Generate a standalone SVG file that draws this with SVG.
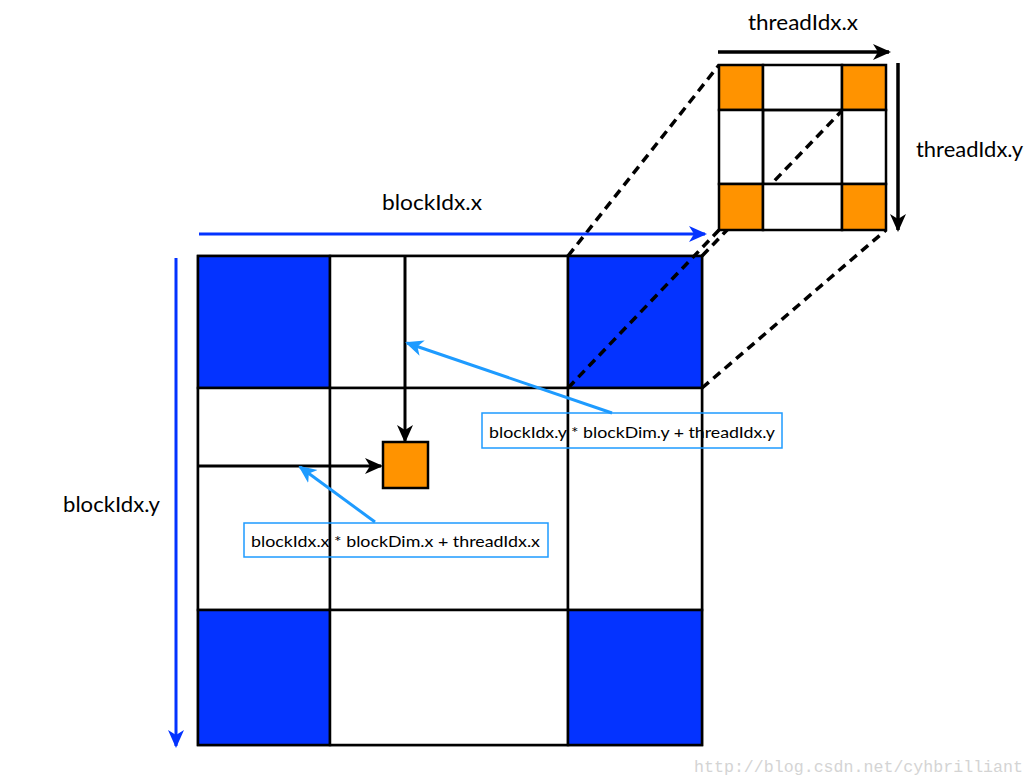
<svg xmlns="http://www.w3.org/2000/svg" width="1035" height="784" viewBox="0 0 1035 784">
<defs>
<style>
.lbl{font-family:Lato,"Open Sans","Liberation Sans",sans-serif;fill:#000}
.big{font-size:21px}
.sm{font-size:15px}
.cell{stroke:#000;stroke-width:2.5}
.blue{fill:#0433FF}
.org{fill:#FF9300}
.wht{fill:#fff}
.dash{stroke:#000;stroke-width:3.5;stroke-dasharray:9,6;fill:none}
.box{fill:none;stroke:#1E9BFF;stroke-width:1.5}
</style>
<marker id="ab" markerUnits="userSpaceOnUse" markerWidth="18" markerHeight="18" viewBox="0 0 18 18" refX="16" refY="9" orient="auto">
<path d="M0,1 L18,9 L0,17 L5,9 z" fill="#000"/>
</marker>
<marker id="abl" markerUnits="userSpaceOnUse" markerWidth="18" markerHeight="18" viewBox="0 0 18 18" refX="16" refY="9" orient="auto">
<path d="M0,1 L18,9 L0,17 L5,9 z" fill="#0433FF"/>
</marker>
<marker id="alb" markerUnits="userSpaceOnUse" markerWidth="18" markerHeight="18" viewBox="0 0 18 18" refX="16" refY="9" orient="auto">
<path d="M0,1 L18,9 L0,17 L5,9 z" fill="#1E9BFF"/>
</marker>
</defs>
<rect width="1035" height="784" fill="#fff"/>

<g id="grid">
<rect class="cell wht" x="198" y="256" width="504" height="489"/>
<rect class="cell blue" x="198" y="256" width="132" height="132"/>
<rect class="cell wht" x="330" y="256" width="238" height="132"/>
<rect class="cell blue" x="568" y="256" width="134" height="132"/>
<rect class="cell wht" x="198" y="388" width="132" height="222"/>
<rect class="cell wht" x="330" y="388" width="238" height="222"/>
<rect class="cell wht" x="568" y="388" width="134" height="222"/>
<rect class="cell blue" x="198" y="610" width="132" height="135"/>
<rect class="cell wht" x="330" y="610" width="238" height="135"/>
<rect class="cell blue" x="568" y="610" width="134" height="135"/>
</g>

<g id="thread">
<rect class="cell org" x="383" y="442" width="45" height="46"/>
</g>

<g id="connectors">
<line class="dash" x1="568" y1="256" x2="719" y2="65"/>
<line class="dash" x1="568" y1="388" x2="719" y2="230"/>
<line class="dash" x1="702" y1="388" x2="886" y2="230"/>
<line class="dash" x1="702" y1="256" x2="886" y2="65"/>
<line x1="199" y1="234" x2="705" y2="234" stroke="#0433FF" stroke-width="3" marker-end="url(#abl)"/>
<line x1="176" y1="258" x2="176" y2="746" stroke="#0433FF" stroke-width="3" marker-end="url(#abl)"/>
<line x1="405" y1="256" x2="405" y2="441" stroke="#000" stroke-width="3" marker-end="url(#ab)"/>
<line x1="198" y1="466" x2="381" y2="466" stroke="#000" stroke-width="3" marker-end="url(#ab)"/>
<line x1="375" y1="522" x2="300" y2="467" stroke="#1E9BFF" stroke-width="3" marker-end="url(#alb)"/>
<line x1="612" y1="413" x2="407" y2="343" stroke="#1E9BFF" stroke-width="3" marker-end="url(#alb)"/>
<line x1="718" y1="52" x2="889" y2="52" stroke="#000" stroke-width="3.5" marker-end="url(#ab)"/>
<line x1="898" y1="63" x2="898" y2="230" stroke="#000" stroke-width="3.5" marker-end="url(#ab)"/>
</g>

<g id="block-zoom">
<rect class="cell org" x="719" y="65" width="44" height="45"/>
<rect class="cell wht" x="763" y="65" width="79" height="45"/>
<rect class="cell org" x="842" y="65" width="44" height="45"/>
<rect class="cell wht" x="719" y="110" width="44" height="74"/>
<rect class="cell" fill="none" x="763" y="110" width="79" height="74"/>
<rect class="cell wht" x="842" y="110" width="44" height="74"/>
<rect class="cell org" x="719" y="184" width="44" height="46"/>
<rect class="cell wht" x="763" y="184" width="79" height="46"/>
<rect class="cell org" x="842" y="184" width="44" height="46"/>
</g>

<g id="labels">
<text class="lbl big" x="382" y="210" textLength="100" lengthAdjust="spacingAndGlyphs">blockIdx.x</text>
<text class="lbl big" x="63" y="512" textLength="97" lengthAdjust="spacingAndGlyphs">blockIdx.y</text>
<text class="lbl big" x="748" y="30" textLength="110" lengthAdjust="spacingAndGlyphs">threadIdx.x</text>
<text class="lbl big" x="916" y="157" textLength="107" lengthAdjust="spacingAndGlyphs">threadIdx.y</text>
</g>

<g id="formula-x">
<rect class="box" x="244" y="523" width="304" height="34"/>
<text class="lbl sm" x="251" y="547" textLength="289" lengthAdjust="spacingAndGlyphs">blockIdx.x * blockDim.x + threadIdx.x</text>
</g>
<g id="formula-y">
<rect class="box" x="482" y="413" width="300" height="35"/>
<text class="lbl sm" x="489" y="438" textLength="286" lengthAdjust="spacingAndGlyphs">blockIdx.y * blockDim.y + threadIdx.y</text>
</g>

<text x="694" y="772" font-family="Liberation Mono,monospace" font-size="16.5" fill="#d4d4d4" textLength="329" lengthAdjust="spacingAndGlyphs">http://blog.csdn.net/cyhbrilliant</text>
</svg>
